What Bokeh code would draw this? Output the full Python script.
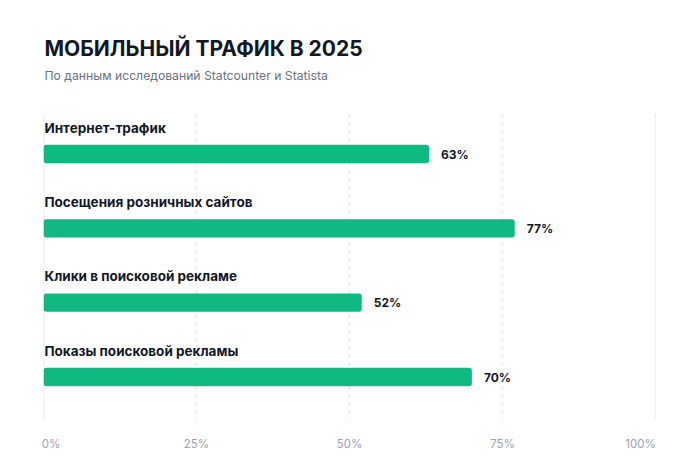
from bokeh.plotting import figure
from bokeh.models import Range1d, FixedTicker, CustomJSTickFormatter, ColumnDataSource
from bokeh.core.properties import value
from bokeh.embed import file_html
from bokeh.resources import INLINE

# Data
categories = [
    "Интернет-трафик",
    "Посещения розничных сайтов",
    "Клики в поисковой рекламе",
    "Показы поисковой рекламы",
]
shares = [63, 77, 52, 70]
tick_values = [0, 25, 50, 75, 100]
# edge labels padded with figure spaces so they sit inside the frame edges
tick_labels = ["\u2007\u20070%", "25%", "50%", "75%", "100%\u2007\u2007\u2007\u2007"]

FONT = "Inter"
DARK = "#111827"
GREEN = "#10b981"
GRID = "#e5e7eb"

# vertical layout in category units (row i sits at y = i, rows run downward)
Y_TOP, Y_BOTTOM = -2.065, 3.585
GRID_TOP = -0.545
TITLE_Y, SUBTITLE_Y = -1.424, -1.056
LABEL_LIFT = 0.356

idx = list(range(len(categories)))
src = ColumnDataSource(dict(
    y=idx,
    share=shares,
    cat=categories,
    cat_y=[i - LABEL_LIFT for i in idx],
    val=[f"{s}%" for s in shares],
))

p = figure(
    width=700, height=472,
    x_range=Range1d(0, 100),
    y_range=Range1d(Y_BOTTOM, Y_TOP),
    output_backend="svg", toolbar_location=None,
    min_border_left=43, min_border_right=45,
    min_border_top=0, min_border_bottom=52,
    outline_line_color=None,
)
p.title.visible = False
p.grid.visible = False

# Grid lines: solid at the ends of the scale, dashed in between
edge_ticks = [t for t in tick_values if t in (0, 100)]
inner_ticks = [t for t in tick_values if t not in (0, 100)]
p.segment(x0=edge_ticks, x1=edge_ticks, y0=GRID_TOP, y1=Y_BOTTOM,
          line_color=GRID, line_width=2)
p.segment(x0=inner_ticks, x1=inner_ticks, y0=GRID_TOP, y1=Y_BOTTOM,
          line_color=GRID, line_width=1, line_dash="4 4")

# Headline and subtitle
p.text(x=[0], y=[TITLE_Y], text=["МОБИЛЬНЫЙ ТРАФИК В 2025"], x_offset=1,
       text_font=value(FONT), text_font_size="21px", text_font_style="bold",
       text_color=DARK, text_align="left", text_baseline="alphabetic")
p.text(x=[0], y=[SUBTITLE_Y], text=["По данным исследований Statcounter и Statista"],
       x_offset=1, text_font=value(FONT), text_font_size="12.2px",
       text_color="#6b7280", text_align="left", text_baseline="alphabetic")

# Bars
p.hbar(y="y", left=0, right="share", height=0.247, source=src,
       fill_color=GREEN, line_color=None, border_radius=3)

# Category labels over each bar
p.text(x=0.15, y="cat_y", text="cat", source=src,
       text_font=value(FONT), text_font_size="13.5px", text_font_style="bold",
       text_color=DARK, text_align="left", text_baseline="alphabetic")

# Value labels at bar ends
p.text(x="share", y="y", text="val", source=src, x_offset=12,
       text_font=value(FONT), text_font_size="12px", text_font_style="bold",
       text_color=DARK, text_align="left", text_baseline="middle")

# Axes
p.yaxis.visible = False
xa = p.xaxis[0]
xa.ticker = FixedTicker(ticks=tick_values)
xa.formatter = CustomJSTickFormatter(args=dict(names=tick_labels, vals=tick_values),
                                     code="return names[vals.indexOf(tick)];")
xa.axis_line_color = None
xa.major_tick_line_color = None
xa.minor_tick_line_color = None
xa.major_label_standoff = 10
xa.major_label_text_font = FONT
xa.major_label_text_font_size = "11.5px"
xa.major_label_text_color = "#9ca3af"

open("out.html", "w").write(file_html(p, INLINE))
